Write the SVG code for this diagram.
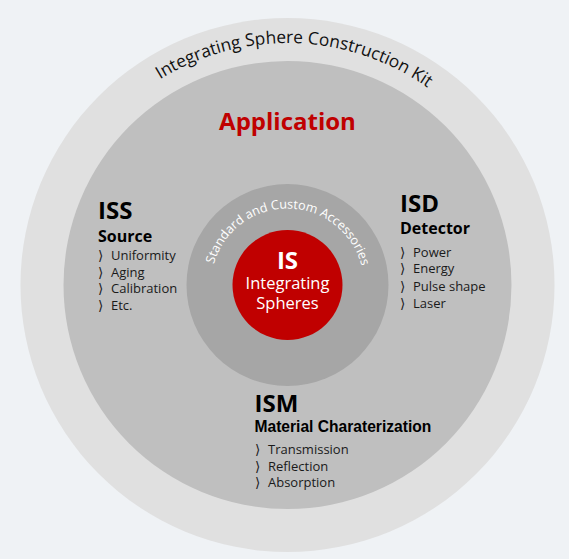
<svg xmlns="http://www.w3.org/2000/svg" width="569" height="559" viewBox="0 0 569 559">
<style>
.sans{font-family:"Open Sans","Noto Sans","DejaVu Sans",sans-serif}
.head{font-family:"Open Sans","Noto Sans",sans-serif;font-weight:bold;fill:#000}
.item{font-family:"Open Sans","Noto Sans",sans-serif;font-size:13px;fill:#1a1a1a}
.br{font-family:"DejaVu Sans",sans-serif;font-size:13.5px;fill:#1a1a1a}
</style>
<defs>
<path id="outerArc" d="M 45.5 285 A 242 242 0 0 1 529.5 285"/>
<path id="innerArc" d="M 211 285 A 76.5 76.5 0 0 1 364 285"/>
</defs>
<rect width="569" height="559" fill="#eff2f5"/>
<g id="kit">
<circle cx="287.5" cy="285" r="267" fill="#e0e0e0"/>
<text class="sans" font-size="17.3" fill="#111" text-anchor="middle"><textPath href="#outerArc" startOffset="51%">Integrating Sphere Construction Kit</textPath></text>
</g>
<g id="application">
<circle cx="287.5" cy="285" r="224" fill="#bfbfbf"/>
<text class="head" x="287.5" y="130" font-size="24" style="fill:#c00000" text-anchor="middle">Application</text>
</g>
<g id="accessories">
<circle cx="287.5" cy="285" r="101" fill="#a6a6a6"/>
<text class="sans" font-size="12.6" fill="#fff" text-anchor="middle"><textPath href="#innerArc" startOffset="50.4%">Standard and Custom Accessories</textPath></text>
</g>
<g id="is">
<circle cx="287.5" cy="285" r="55" fill="#c00000"/>
<text class="head" x="287.5" y="269" font-size="24" style="fill:#fff" text-anchor="middle">IS</text>
<text class="sans" x="287.5" y="288.5" font-size="16.5" fill="#fff" text-anchor="middle">Integrating</text>
<text class="sans" x="287.5" y="308.5" font-size="16.5" fill="#fff" text-anchor="middle">Spheres</text>
</g>
<g id="iss">
<text class="head" x="98" y="219" font-size="24">ISS</text>
<text class="head" x="98" y="242" font-size="16">Source</text>
<text class="item" y="260"><tspan class="br" x="98">⟩</tspan><tspan x="111">Uniformity</tspan></text>
<text class="item" y="276.7"><tspan class="br" x="98">⟩</tspan><tspan x="111">Aging</tspan></text>
<text class="item" y="293.4"><tspan class="br" x="98">⟩</tspan><tspan x="111">Calibration</tspan></text>
<text class="item" y="310"><tspan class="br" x="98">⟩</tspan><tspan x="111">Etc.</tspan></text>
</g>
<g id="isd">
<text class="head" x="400" y="211.7" font-size="24">ISD</text>
<text class="head" x="400" y="234" font-size="16">Detector</text>
<text class="item" y="256.7"><tspan class="br" x="400">⟩</tspan><tspan x="413">Power</tspan></text>
<text class="item" y="273.3"><tspan class="br" x="400">⟩</tspan><tspan x="413">Energy</tspan></text>
<text class="item" y="290.5"><tspan class="br" x="400">⟩</tspan><tspan x="413">Pulse shape</tspan></text>
<text class="item" y="307.5"><tspan class="br" x="400">⟩</tspan><tspan x="413">Laser</tspan></text>
</g>
<g id="ism">
<text class="head" x="254.5" y="412.3" font-size="24">ISM</text>
<text x="254.5" y="431.7" font-family="Liberation Sans,Arial,sans-serif" font-weight="bold" font-size="15.6" fill="#000">Material Charaterization</text>
<text class="item" y="454"><tspan class="br" x="255">⟩</tspan><tspan x="268">Transmission</tspan></text>
<text class="item" y="470.7"><tspan class="br" x="255">⟩</tspan><tspan x="268">Reflection</tspan></text>
<text class="item" y="487.3"><tspan class="br" x="255">⟩</tspan><tspan x="268">Absorption</tspan></text>
</g>
<g id="connectors"></g>
</svg>
